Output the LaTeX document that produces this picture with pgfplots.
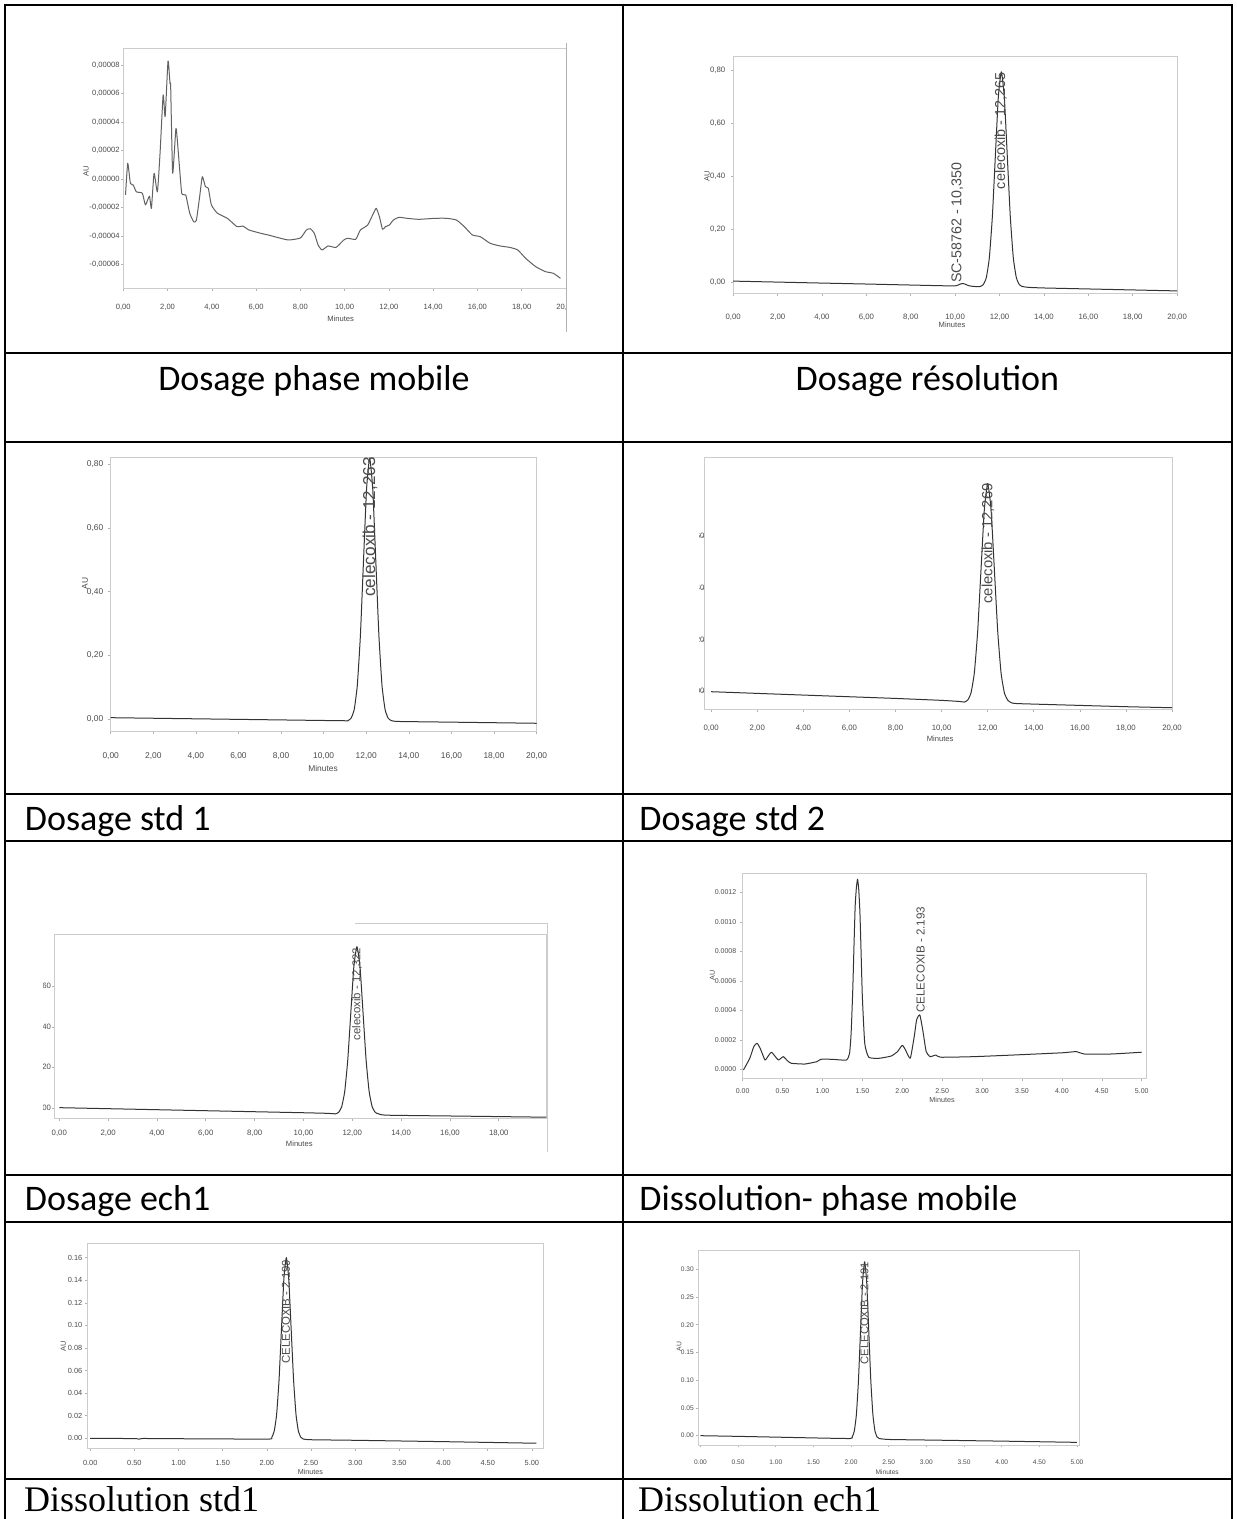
\documentclass[border=0pt]{standalone}
\usepackage{fontspec}
\setmainfont{Carlito}
\newfontfamily\arialf{Liberation Sans}
\newfontfamily\timesf{Liberation Serif}
\usepackage{pgfplots}
\pgfplotsset{compat=1.18}
\definecolor{trace}{gray}{0.2}
\definecolor{tlab}{gray}{0.3}
\definecolor{frm}{gray}{0.8}
\newcommand\tf[1]{\arialf\fontsize{#1}{#1}\selectfont}
\tikzset{pk/.style={rotate=90, anchor=east, inner sep=0pt, text=tlab},
         mn/.style={text=tlab, inner sep=0pt}}
\pgfplotsset{chrom/.style={scale only axis, anchor=north west, clip=false,
  axis line style={frm, line width=0.3pt},
  tick style={gray!60, line width=0.3pt}, major tick length=1.2pt, tick align=outside, tick pos=left,
  cycle list={{trace, mark=none}},
  every axis plot post/.append style={line width=0.5pt, mark=none, line join=round, smooth, tension=0.3},
  yticklabel style={anchor=east, inner sep=0pt, text=tlab},
  xticklabel style={anchor=center, inner sep=0pt, text=tlab}}}
\begin{document}
\begin{tikzpicture}
\useasboundingbox (0,0) rectangle (618pt,-759.5pt);
\fill[white] (0,0) rectangle (618pt,-759.5pt);

% ---------- Panel 1 : Dosage phase mobile ----------
\begin{axis}[chrom, at={(61.65pt,-24.15pt)}, width=221.35pt, height=120pt,
  xmin=0, xmax=20, ymin=-7.67, ymax=9.17,
  xtick={0,2,4,6,8,10,12,14,16,18,20},
  xticklabels={{0,00},{2,00},{4,00},{6,00},{8,00},{10,00},{12,00},{14,00},{16,00},{18,00},{20,00}},
  ytick={-6,-4,-2,0,2,4,6,8},
  yticklabels={{-0,00006},{-0,00004},{-0,00002},{0,00000},{0,00002},{0,00004},{0,00006},{0,00008}},
  xticklabel style={yshift=-8.35pt, font=\tf{3.8}},
  yticklabel style={xshift=-0.5pt, font=\tf{3.8}},
  cycle list={{black!62, mark=none}}]
\addplot table {
x y
0.10 -1.12
0.20 1.10
0.32 -0.30
0.45 -0.42
0.59 -0.90
0.86 -1.00
1.00 -1.82
1.18 -1.20
1.27 -2.06
1.39 0.40
1.54 -0.90
1.66 1.80
1.80 5.90
1.89 4.37
2.02 8.28
2.11 6.70
2.14 6.50
2.23 0.40
2.38 3.55
2.50 1.57
2.64 -1.00
2.82 -1.12
3.00 -2.40
3.18 -3.00
3.30 -2.90
3.45 -1.24
3.57 0.16
3.71 -0.54
3.84 -0.65
3.98 -1.82
4.25 -2.40
4.70 -2.76
5.14 -3.35
5.40 -3.30
5.68 -3.58
6.21 -3.81
6.60 -3.95
6.93 -4.09
7.46 -4.28
8.00 -4.14
8.27 -3.58
8.45 -3.49
8.63 -3.81
8.80 -4.63
8.98 -4.98
9.25 -4.70
9.61 -4.80
9.96 -4.28
10.14 -4.16
10.50 -4.23
10.71 -3.58
11.04 -3.23
11.30 -2.41
11.43 -2.06
11.57 -2.64
11.71 -3.53
11.84 -3.35
12.02 -3.23
12.20 -2.88
12.46 -2.69
12.82 -2.76
13.36 -2.83
14.07 -2.76
14.61 -2.76
15.05 -2.88
15.41 -3.35
15.77 -3.93
16.13 -4.05
16.57 -4.51
17.02 -4.70
17.46 -4.80
17.82 -4.98
18.18 -5.57
18.63 -6.15
19.07 -6.50
19.43 -6.62
19.75 -6.97
};
\end{axis}
\fill[white] (283.6pt,-145pt) rectangle (310pt,-160pt);
\draw[gray!60, line width=0.5pt] (283pt,-21.5pt) -- (283pt,-166pt);
\node[mn, font=\tf{3.8}] at (170.35pt,-159.15pt) {Minutes};
\node[mn, font=\tf{3.8}, rotate=90] at (43pt,-85.85pt) {AU};

% ---------- Panel 2 : Dosage resolution ----------
\begin{axis}[chrom, at={(366.6pt,-28.35pt)}, width=221.95pt, height=118.3pt,
  xmin=0, xmax=20, ymin=-0.04, ymax=0.853,
  xtick={0,2,4,6,8,10,12,14,16,18,20},
  xticklabels={{0,00},{2,00},{4,00},{6,00},{8,00},{10,00},{12,00},{14,00},{16,00},{18,00},{20,00}},
  ytick={0,0.2,0.4,0.6,0.8},
  yticklabels={{0,00},{0,20},{0,40},{0,60},{0,80}},
  xticklabel style={yshift=-10.85pt, font=\tf{3.9}},
  yticklabel style={xshift=-2.6pt, font=\tf{3.9}}]
\addplot table {
x y
0 0.006
2 0.0023
4 -0.0014
6 -0.005
8 -0.0088
9.6 -0.0118
9.95 -0.0124
10.1 -0.010
10.25 -0.0045
10.35 -0.003
10.45 -0.0055
10.6 -0.011
10.8 -0.014
11.0 -0.0145
11.135 -0.0142
11.27 -0.007
11.405 0.0196
11.54 0.094
11.675 0.248
11.81 0.4765
11.945 0.7006
12.08 0.796
12.215 0.7006
12.35 0.4765
12.485 0.248
12.62 0.094
12.755 0.0196
12.89 -0.007
13.025 -0.0142
13.3 -0.0176
14 -0.0199
16 -0.0236
18 -0.0273
20 -0.031
};
\node[pk, font=\tf{7.2}] at (axis cs:12.06,0.796) {celecoxib - 12,265};
\node[pk, anchor=west, font=\tf{7.1}] at (axis cs:10.1,-0.002) {SC-58762 - 10,350};
\end{axis}
\node[mn, font=\tf{3.8}] at (476pt,-162.5pt) {Minutes};
\node[mn, font=\tf{3.8}, rotate=90] at (353.5pt,-88.35pt) {AU};

% ---------- Panel 3 : Dosage std 1 ----------
\begin{axis}[chrom, at={(55.35pt,-228.8pt)}, width=212.95pt, height=136.9pt,
  xmin=0, xmax=20, ymin=-0.038, ymax=0.82,
  xtick={0,2,4,6,8,10,12,14,16,18,20},
  xticklabels={{0,00},{2,00},{4,00},{6,00},{8,00},{10,00},{12,00},{14,00},{16,00},{18,00},{20,00}},
  ytick={0,0.2,0.4,0.6,0.8},
  yticklabels={{0,00},{0,20},{0,40},{0,60},{0,80}},
  xticklabel style={yshift=-10.95pt, font=\tf{4.2}},
  yticklabel style={xshift=-2.35pt, font=\tf{4.2}}]
\addplot table {
x y
0 0.005
4 0.0015
8 -0.002
11 -0.0046
11.145 -0.0038
11.29 0.0035
11.435 0.0306
11.58 0.1059
11.725 0.262
11.87 0.4942
12.015 0.7216
12.16 0.8184
12.305 0.7216
12.45 0.4942
12.595 0.262
12.74 0.1059
12.885 0.0306
13.03 0.0035
13.175 -0.0038
13.5 -0.0068
16 -0.009
20 -0.0125
};
\node[pk, font=\tf{8.6}] at (axis cs:12.18,0.823) {celecoxib - 12,263};
\end{axis}
\node[mn, font=\tf{4.2}] at (161.5pt,-384.15pt) {Minutes};
\node[mn, font=\tf{4.2}, rotate=90] at (42.5pt,-291.65pt) {AU};

% ---------- Panel 4 : Dosage std 2 ----------
\begin{axis}[chrom, at={(352.15pt,-228.7pt)}, width=233.85pt, height=126.2pt,
  xmin=-0.3, xmax=20, ymin=-0.07, ymax=0.907,
  xtick={0,2,4,6,8,10,12,14,16,18,20},
  xticklabels={{0,00},{2,00},{4,00},{6,00},{8,00},{10,00},{12,00},{14,00},{16,00},{18,00},{20,00}},
  ytick={0,0.2,0.4,0.6},
  yticklabels={{0,00},{0,20},{0,40},{0,60}},
  xticklabel style={yshift=-8.1pt, font=\tf{3.9}},
  yticklabel style={xshift=1.5pt, font=\tf{3.9}}]
\addplot table {
x y
0 0
2 -0.0065
4 -0.013
6 -0.0195
8 -0.026
10 -0.0335
10.8 -0.038
10.985 -0.0401
11.13 -0.0326
11.275 -0.0048
11.42 0.0727
11.565 0.2333
11.71 0.4723
11.855 0.7064
12.0 0.806
12.145 0.7064
12.29 0.4723
12.435 0.2333
12.58 0.0727
12.725 -0.0048
12.87 -0.0326
13.015 -0.0421
13.3 -0.046
16 -0.053
18 -0.058
20 -0.062
};
\node[pk, font=\tf{7.4}] at (axis cs:12.01,0.808) {celecoxib - 12,269};
\end{axis}
\fill[white] (312.2pt,-232pt) rectangle (349.4pt,-352pt);
\node[mn, font=\tf{3.8}] at (470.1pt,-369.5pt) {Minutes};

% ---------- Panel 5 : Dosage ech1 ----------
\begin{axis}[chrom, at={(27.2pt,-467.15pt)}, width=246pt, height=91.95pt,
  xmin=-0.2, xmax=19.95, ymin=-0.049, ymax=0.858,
  xtick={0,2,4,6,8,10,12,14,16,18,20},
  xticklabels={{0,00},{2,00},{4,00},{6,00},{8,00},{10,00},{12,00},{14,00},{16,00},{18,00},{20,00}},
  ytick={0,0.2,0.4,0.6},
  yticklabels={{0,00},{0,20},{0,40},{0,60}},
  xticklabel style={yshift=-6.5pt, font=\tf{3.9}},
  yticklabel style={xshift=-0.3pt, font=\tf{3.9}}]
\addplot table {
x y
0 0.003
2 -0.002
4 -0.007
6 -0.012
8 -0.017
10 -0.022
11 -0.025
11.315 -0.0272
11.44 -0.0198
11.565 0.0073
11.69 0.0828
11.815 0.2392
11.94 0.472
12.065 0.70
12.19 0.797
12.315 0.70
12.44 0.472
12.565 0.2392
12.69 0.0828
12.815 0.0073
12.94 -0.0198
13.065 -0.0272
13.4 -0.034
16 -0.038
18 -0.041
19.95 -0.044
};
\node[pk, font=\tf{5.7}] at (axis cs:12.19,0.794) {celecoxib - 12,322};
\end{axis}
\fill[white] (3.1pt,-465pt) rectangle (21.35pt,-560pt);
\fill[white] (273.7pt,-558pt) rectangle (310.5pt,-578pt);
\draw[frm, line width=0.4pt] (273.5pt,-461.5pt) -- (273.5pt,-576pt);
\draw[frm, line width=0.4pt] (177.5pt,-461.5pt) -- (273.5pt,-461.5pt);
\node[mn, font=\tf{3.8}] at (149.65pt,-571.65pt) {Minutes};

% ---------- Panel 6 : Dissolution phase mobile ----------
\begin{axis}[chrom, at={(371.3pt,-436.65pt)}, width=201.95pt, height=102.5pt,
  xmin=0, xmax=5.06, ymin=-0.61, ymax=13.3,
  xtick={0,0.5,1,1.5,2,2.5,3,3.5,4,4.5,5},
  xticklabels={0.00,0.50,1.00,1.50,2.00,2.50,3.00,3.50,4.00,4.50,5.00},
  ytick={0,2,4,6,8,10,12},
  yticklabels={0.0000,0.0002,0.0004,0.0006,0.0008,0.0010,0.0012},
  xticklabel style={yshift=-5pt, font=\tf{3.5}},
  yticklabel style={xshift=-1.8pt, font=\tf{3.5}}]
\addplot table {
x y
0.01 -0.05
0.09 0.75
0.14 1.54
0.18 1.77
0.22 1.43
0.28 0.63
0.31 0.82
0.36 1.16
0.41 0.86
0.45 0.63
0.51 0.86
0.56 0.59
0.61 0.41
0.78 0.36
0.93 0.52
0.98 0.68
1.12 0.68
1.30 0.63
1.34 1.09
1.36 2.50
1.38 5.39
1.395 8.30
1.41 11.05
1.425 12.30
1.44 12.90
1.455 12.20
1.47 10.60
1.485 7.80
1.50 4.94
1.53 1.77
1.58 0.82
1.71 0.75
1.86 0.90
1.94 1.20
2.00 1.63
2.04 1.32
2.10 0.75
2.15 2.22
2.18 3.35
2.22 3.69
2.26 2.56
2.30 1.20
2.35 0.86
2.42 0.97
2.48 0.82
2.90 0.86
3.39 0.97
3.88 1.09
4.03 1.13
4.18 1.20
4.28 1.04
4.62 1.04
5.00 1.16
};
\node[pk, font=\tf{5.8}] at (axis cs:2.23,11.05) {CELECOXIB - 2.193};
\end{axis}
\node[mn, font=\tf{3.6}] at (471pt,-550pt) {Minutes};
\node[mn, font=\tf{3.6}, rotate=90] at (356.15pt,-487.5pt) {AU};

% ---------- Panel 7 : Dissolution std1 ----------
\begin{axis}[chrom, at={(43.78pt,-621.65pt)}, width=227.9pt, height=102.5pt,
  xmin=-0.03, xmax=5.13, ymin=-0.0089, ymax=0.1727,
  xtick={0,0.5,1,1.5,2,2.5,3,3.5,4,4.5,5},
  xticklabels={0.00,0.50,1.00,1.50,2.00,2.50,3.00,3.50,4.00,4.50,5.00},
  ytick={0,0.02,0.04,0.06,0.08,0.10,0.12,0.14,0.16},
  yticklabels={0.00,0.02,0.04,0.06,0.08,0.10,0.12,0.14,0.16},
  xticklabel style={yshift=-6.2pt, font=\tf{3.7}},
  yticklabel style={xshift=-1.25pt, font=\tf{3.7}}]
\addplot table {
x y
0 0
0.5 -0.0003
0.55 -0.0008
0.6 -0.0002
1 -0.0004
1.5 -0.0006
2.0275 -0.0007
2.055 0.0008
2.0825 0.0061
2.11 0.0208
2.1375 0.0513
2.165 0.0966
2.1925 0.1411
2.22 0.160
2.2475 0.1411
2.275 0.0966
2.3025 0.0513
2.33 0.0208
2.3575 0.0061
2.385 0.0008
2.4125 -0.0007
2.5 -0.0013
3 -0.0018
4 -0.003
5.05 -0.0044
};
\node[pk, font=\tf{5.7}] at (axis cs:2.216,0.1585) {CELECOXIB - 2.199};
\end{axis}
\node[mn, font=\tf{3.6}] at (155.2pt,-736.15pt) {Minutes};
\node[mn, font=\tf{3.7}, rotate=90] at (31.65pt,-673.35pt) {AU};

% ---------- Panel 8 : Dissolution ech1 ----------
\begin{axis}[chrom, at={(349.3pt,-625.3pt)}, width=190.5pt, height=97.2pt,
  xmin=-0.025, xmax=5.035, ymin=-0.0168, ymax=0.3337,
  xtick={0,0.5,1,1.5,2,2.5,3,3.5,4,4.5,5},
  xticklabels={0.00,0.50,1.00,1.50,2.00,2.50,3.00,3.50,4.00,4.50,5.00},
  ytick={0,0.05,0.10,0.15,0.20,0.25,0.30},
  yticklabels={0.00,0.05,0.10,0.15,0.20,0.25,0.30},
  xticklabel style={yshift=-7.5pt, font=\tf{3.3}},
  yticklabel style={xshift=-1pt, font=\tf{3.3}}]
\addplot table {
x y
0 0
0.5 -0.0012
1 -0.0026
1.5 -0.004
1.9875 -0.0051
2.015 -0.0023
2.0425 0.0082
2.07 0.0374
2.0975 0.0979
2.125 0.188
2.1525 0.2762
2.18 0.3137
2.2075 0.2762
2.235 0.188
2.2625 0.0979
2.29 0.0374
2.3175 0.0082
2.345 -0.0023
2.3725 -0.0051
2.5 -0.0068
3 -0.0078
4 -0.0098
5 -0.012
};
\node[pk, font=\tf{5.6}] at (axis cs:2.177,0.3137) {CELECOXIB - 2.191};
\end{axis}
\node[mn, font=\tf{3.3}] at (443.6pt,-735.85pt) {Minutes};
\node[mn, font=\tf{3.4}, rotate=90] at (339.5pt,-673.35pt) {AU};

% ---------- table grid ----------
\begin{scope}[line width=1pt, black]
\draw (2.5pt,-759.5pt) -- (2.5pt,-2.5pt) -- (616pt,-2.5pt) -- (616pt,-759.5pt);
\draw (311.35pt,-2.5pt) -- (311.35pt,-759.5pt);
\foreach \yy in {176.35,221,397.15,420.65,587.5,610.85,739.5}
  \draw (2.5pt,-\yy pt) -- (616pt,-\yy pt);
\end{scope}

% ---------- captions ----------
\begin{scope}[every node/.style={inner sep=0pt, font=\fontsize{18}{20}\selectfont}]
\node[anchor=base] at (157pt,-195pt) {Dosage phase mobile};
\node[anchor=base] at (463.7pt,-195pt) {Dosage résolution};
\node[anchor=base west] at (12.25pt,-415pt) {Dosage std 1};
\node[anchor=base west] at (319.5pt,-415pt) {Dosage std 2};
\node[anchor=base west] at (12.25pt,-605pt) {Dosage ech1};
\node[anchor=base west] at (319.5pt,-605pt) {Dissolution- phase mobile};
\node[anchor=base west, font=\timesf\fontsize{18}{20}\selectfont] at (11.85pt,-755.85pt) {Dissolution std1};
\node[anchor=base west, font=\timesf\fontsize{18}{20}\selectfont] at (318.85pt,-755.85pt) {Dissolution ech1};
\end{scope}
\end{tikzpicture}
\end{document}
